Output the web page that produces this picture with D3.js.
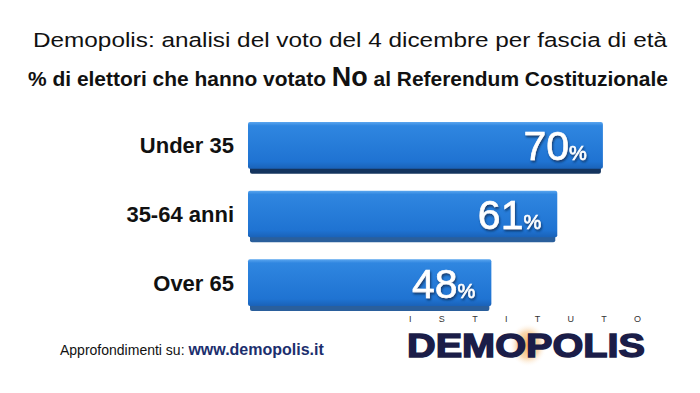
<!DOCTYPE html>
<html>
<head>
<meta charset="utf-8">
<script src="https://cdn.jsdelivr.net/npm/d3@7"></script>
<style>
	body { margin: 0; background: #fff; }
	svg { display: block; }
</style>
</head>
<body>
<svg id="chart" width="700" height="393"></svg>
<script>
var categories = ["Under 35", "35-64 anni", "Over 65"];
var values = [70, 61, 48];
var titleLine1 = "Demopolis: analisi del voto del 4 dicembre per fascia di età";
var footerLabel = "Approfondimenti su:";
var footerLink = "www.demopolis.it";

var svg = d3.select("#chart");
var barLeft = 248;

var x = d3.scaleLinear().domain([0, 100]).range([0, 507]);
var y = d3.scaleBand().domain(categories).range([122, 306]).paddingInner(0.32);

var defs = svg.append("defs");

var grad = defs.append("linearGradient").attr("id", "barFill")
	.attr("x1", 0).attr("y1", 0).attr("x2", 0).attr("y2", 1);
grad.append("stop").attr("offset", "0%").attr("stop-color", "#5aa6ef");
grad.append("stop").attr("offset", "8%").attr("stop-color", "#2f86e0");
grad.append("stop").attr("offset", "85%").attr("stop-color", "#1f73d2");
grad.append("stop").attr("offset", "100%").attr("stop-color", "#1a62b8");

var glow = defs.append("radialGradient").attr("id", "logoGlow");
glow.append("stop").attr("offset", "0%").attr("stop-color", "#f7a23a").attr("stop-opacity", 0.9);
glow.append("stop").attr("offset", "60%").attr("stop-color", "#f3b466").attr("stop-opacity", 0.5);
glow.append("stop").attr("offset", "100%").attr("stop-color", "#ffffff").attr("stop-opacity", 0);

var txtShadow = defs.append("filter").attr("id", "txtShadow")
	.attr("x", "-20%").attr("y", "-20%").attr("width", "140%").attr("height", "140%");
txtShadow.append("feDropShadow").attr("dx", 1).attr("dy", 2)
	.attr("stdDeviation", 1.2).attr("flood-color", "#0a2a55").attr("flood-opacity", 0.8);

// titles
svg.append("text")
	.attr("x", 350).attr("y", 47)
	.attr("text-anchor", "middle")
	.attr("font-family", "Liberation Sans, Arial, sans-serif")
	.attr("font-size", 20.5)
	.attr("fill", "#111")
	.attr("textLength", 634).attr("lengthAdjust", "spacingAndGlyphs")
	.text(titleLine1);

var t2 = svg.append("text")
	.attr("x", 28).attr("y", 86)
	.attr("font-family", "Liberation Sans Narrow, Liberation Sans, Arial, sans-serif")
	.attr("font-weight", "bold")
	.attr("font-size", 21)
	.attr("fill", "#111")
	.attr("textLength", 640).attr("lengthAdjust", "spacingAndGlyphs");
t2.append("tspan").text("% di elettori che hanno votato ");
t2.append("tspan").attr("font-size", 27).text("No");
t2.append("tspan").text(" al Referendum Costituzionale");

// bars
var rows = svg.append("g").attr("class", "rows")
	.selectAll("g").data(categories).enter().append("g");

rows.append("rect")
	.attr("class", "depth")
	.attr("x", barLeft + 2)
	.attr("y", function(d) { return y(d) + 5; })
	.attr("width", function(d, i) { return x(values[i]) - 4; })
	.attr("height", y.bandwidth())
	.attr("rx", 2)
	.attr("fill", function(d, i) { return i == 0 ? "#14345e" : "#2a5f9c"; });

rows.append("rect")
	.attr("class", "bar")
	.attr("x", barLeft)
	.attr("y", function(d) { return y(d); })
	.attr("width", function(d, i) { return x(values[i]); })
	.attr("height", y.bandwidth())
	.attr("rx", 2)
	.attr("fill", "url(#barFill)");

rows.append("text")
	.attr("x", 234)
	.attr("y", function(d) { return y(d) + y.bandwidth() / 2 + 8; })
	.attr("text-anchor", "end")
	.attr("font-family", "Liberation Sans, Arial, sans-serif")
	.attr("font-weight", "bold")
	.attr("font-size", 22)
	.attr("fill", "#111")
	.text(function(d) { return d; });

var vals = rows.append("text")
	.attr("x", function(d, i) { return barLeft + x(values[i]) - 16; })
	.attr("y", function(d) { return y(d) + y.bandwidth() / 2 + 15; })
	.attr("text-anchor", "end")
	.attr("font-family", "Liberation Sans, Arial, sans-serif")
	.attr("fill", "#fff")
	.attr("stroke", "#fff").attr("stroke-width", 0.6)
	.attr("filter", "url(#txtShadow)");
vals.append("tspan").attr("font-size", 41).text(function(d, i) { return values[i]; });
vals.append("tspan").attr("font-size", 20).text("%");

// footer
var foot = svg.append("text")
	.attr("x", 60).attr("y", 355)
	.attr("font-family", "Liberation Sans Narrow, Liberation Sans, Arial, sans-serif");
foot.append("tspan").attr("font-size", 14).attr("fill", "#111").text(footerLabel + " ");
foot.append("tspan").attr("font-size", 16).attr("font-weight", "bold")
	.attr("fill", "#1c2f6e").text(footerLink);

// logo
svg.append("ellipse")
	.attr("cx", 528).attr("cy", 345).attr("rx", 19).attr("ry", 22)
	.attr("fill", "url(#logoGlow)");

svg.append("text")
	.attr("x", 409).attr("y", 322)
	.attr("font-family", "Liberation Sans, Arial, sans-serif")
	.attr("font-size", 9)
	.attr("fill", "#333")
	.attr("textLength", 232).attr("lengthAdjust", "spacing")
	.text("ISTITUTO");

svg.append("text")
	.attr("x", 407).attr("y", 357)
	.attr("font-family", "Liberation Sans, Arial, sans-serif")
	.attr("font-weight", "bold")
	.attr("font-size", 33)
	.attr("fill", "#1b1d48")
	.attr("stroke", "#1b1d48").attr("stroke-width", 1.4)
	.attr("textLength", 238).attr("lengthAdjust", "spacingAndGlyphs")
	.text("DEMOPOLIS");
</script>
</body>
</html>
